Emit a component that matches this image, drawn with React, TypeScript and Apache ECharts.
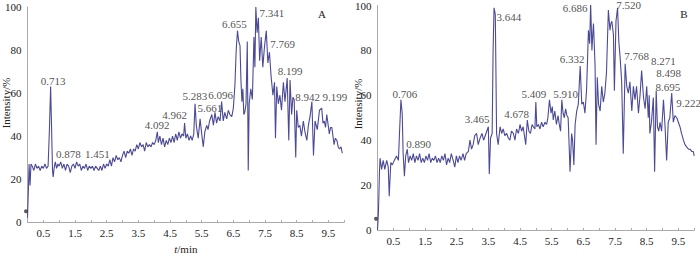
import React, { useEffect, useRef } from "react";
import * as echarts from "echarts";

// ---------- data ----------
const xTickLabels = ["0.5", "1.5", "2.5", "3.5", "4.5", "5.5", "6.5", "7.5", "8.5", "9.5"];
const yTicks = [0, 20, 40, 60, 80, 100];

const timeA = [0,0.03,0.05,0.08,0.11,0.15,0.2,0.25,0.3,0.35,0.4,0.45,0.5,0.55,0.6,0.65,0.69,0.73,0.76,0.79,0.81,0.84,0.878,0.92,0.96,1.0,1.05,1.1,1.15,1.2,1.25,1.3,1.35,1.4,1.45,1.5,1.55,1.6,1.65,1.7,1.75,1.8,1.85,1.9,1.95,2.0,2.05,2.1,2.15,2.2,2.25,2.3,2.35,2.4,2.45,2.5,2.55,2.6,2.65,2.7,2.75,2.8,2.85,2.9,2.95,3.0,3.05,3.1,3.15,3.2,3.25,3.3,3.35,3.4,3.45,3.5,3.55,3.6,3.65,3.7,3.75,3.8,3.85,3.9,3.95,4.0,4.05,4.1,4.13,4.18,4.23,4.28,4.33,4.38,4.43,4.48,4.53,4.58,4.63,4.68,4.73,4.78,4.83,4.88,4.93,4.96,5.0,5.05,5.1,5.15,5.2,5.25,5.29,5.33,5.39,5.45,5.5,5.55,5.6,5.66,5.7,5.75,5.82,5.87,5.92,5.97,6.02,6.08,6.13,6.18,6.23,6.29,6.34,6.39,6.45,6.5,6.55,6.59,6.63,6.67,6.71,6.74,6.77,6.8,6.83,6.86,6.9,6.94,6.97,7.0,7.05,7.1,7.15,7.18,7.21,7.25,7.29,7.33,7.38,7.43,7.48,7.54,7.59,7.64,7.69,7.75,7.8,7.83,7.87,7.92,7.97,8.02,8.08,8.13,8.2,8.25,8.29,8.34,8.38,8.42,8.47,8.5,8.55,8.6,8.65,8.71,8.76,8.82,8.87,8.92,8.98,9.03,9.08,9.15,9.22,9.29,9.33,9.37,9.41,9.45,9.53,9.57,9.61,9.68,9.72,9.77,9.81,9.85,9.9,9.94];
const intensityA = [2,16,27,17,27,26,24,27,25,26,24,26,25,27,25,26,42,63,44,24,21,25,28,25,27,26,28,25,27,24,27,26,23,26,27,25,28,26,27,24,26,25,27,24,26,25,26,24,26,25,24,26,24,27,25,27,26,29,26,30,28,31,29,30,28,31,33,30,33,32,34,31,34,33,36,34,37,35,36,33,37,35,36,35,37,36,38,42,37,40,36,39,35,38,36,39,37,40,37,41,38,42,39,41,40,46,39,41,38,40,38,41,55,45,39,48,41,35,42,45,43,47,50,45,51,46,49,47,56,47,51,48,52,50,49,53,64,80,89,84,82,66,56,62,50,51,55,84,24,55,62,57,86,72,100,88,95,75,86,72,81,89,74,79,68,59,65,39,63,55,59,52,65,56,67,38,66,50,58,57,30,52,44,45,40,47,42,38,45,49,56,31,47,43,52,53,46,47,44,50,41,44,44,36,39,38,35,34,35,32];

const timeB = [0,0.03,0.06,0.08,0.13,0.18,0.23,0.29,0.34,0.37,0.42,0.47,0.53,0.6,0.66,0.7,0.74,0.78,0.81,0.85,0.89,0.94,0.98,1.03,1.08,1.13,1.18,1.23,1.28,1.33,1.38,1.43,1.48,1.53,1.58,1.63,1.68,1.73,1.78,1.83,1.88,1.93,1.98,2.03,2.08,2.13,2.18,2.23,2.28,2.33,2.39,2.44,2.49,2.54,2.59,2.64,2.7,2.75,2.8,2.87,2.92,2.97,3.02,3.07,3.13,3.18,3.24,3.3,3.35,3.4,3.45,3.5,3.53,3.57,3.62,3.65,3.68,3.72,3.74,3.76,3.81,3.87,3.92,3.97,4.02,4.08,4.13,4.18,4.23,4.29,4.34,4.39,4.45,4.5,4.55,4.6,4.64,4.68,4.73,4.78,4.83,4.88,4.92,4.97,5.0,5.03,5.08,5.13,5.18,5.23,5.29,5.34,5.38,5.43,5.48,5.52,5.55,5.6,5.65,5.7,5.74,5.78,5.82,5.86,5.9,5.94,5.98,6.02,6.06,6.08,6.13,6.16,6.2,6.24,6.29,6.34,6.4,6.45,6.5,6.55,6.6,6.63,6.66,6.7,6.73,6.77,6.8,6.82,6.87,6.9,6.94,6.98,7.03,7.08,7.13,7.18,7.23,7.29,7.34,7.37,7.4,7.45,7.48,7.53,7.58,7.62,7.66,7.71,7.76,7.82,7.87,7.92,7.97,8.03,8.08,8.13,8.18,8.24,8.29,8.34,8.4,8.45,8.5,8.55,8.58,8.6,8.65,8.71,8.75,8.8,8.84,8.88,8.92,8.97,9.03,9.08,9.13,9.18,9.23,9.29,9.34,9.39,9.45,9.5,9.55,9.6,9.66,9.71,9.76,9.82,9.87,9.92,9.97,10.0];
const intensityB = [0,8,25,32,27,31,27,31,28,15,30,29,31,33,31,45,58,52,34,24,33,36,30,33,31,34,30,33,31,34,30,32,30,33,31,34,30,32,31,33,30,32,30,33,31,34,29,32,30,34,31,28,33,30,33,31,34,31,34,35,40,36,38,42,43,38,41,43,40,42,44,46,25,41,43,80,99,96,70,43,38,46,43,45,42,43,41,40,44,43,40,45,43,47,44,46,42,38,49,44,43,47,46,45,57,46,47,45,48,46,48,47,50,58,52,55,49,53,47,51,47,44,58,52,50,54,51,50,34,26,43,40,29,47,53,56,73,56,57,52,62,75,89,83,101,80,88,92,73,38,68,56,53,64,57,61,70,98,89,92,93,87,62,93,99,84,77,66,34,74,64,61,66,53,64,58,64,52,60,71,59,54,64,50,60,43,48,59,26,62,46,44,48,44,58,46,31,48,50,61,48,51,50,48,46,43,40,38,37,36,36,35,35,33];

// peak labels: [text, retention time, peak intensity]
const peaksA: [string, number, number][] = [
  ["0.713", 0.713, 63], ["0.878", 0.878, 28], ["1.451", 1.451, 27], ["4.092", 4.092, 42],
  ["4.962", 4.962, 46], ["5.283", 5.283, 55], ["5.661", 5.661, 50], ["6.096", 6.096, 56],
  ["6.655", 6.655, 89], ["7.341", 7.341, 100], ["7.769", 7.769, 79], ["8.199", 8.199, 67],
  ["8.942", 8.942, 55], ["9.199", 9.199, 52],
];
const peaksB: [string, number, number][] = [
  ["0.706", 0.706, 58], ["0.890", 0.89, 35], ["3.465", 3.465, 46], ["3.644", 3.644, 99],
  ["4.678", 4.678, 48], ["5.409", 5.409, 58], ["5.910", 5.91, 58], ["6.332", 6.332, 73],
  ["6.686", 6.686, 100], ["7.520", 7.52, 99], ["7.768", 7.768, 74], ["8.271", 8.271, 71],
  ["8.498", 8.498, 64], ["8.695", 8.695, 62], ["9.222", 9.222, 61],
];
const injectionMark: [number, number][] = [[0, 5]];

// ---------- styles ----------
const labelOffset: Record<string, [number, number]> = {
  "0.713": [3, -6], "0.878": [13, -8], "1.451": [24, -10], "4.092": [0, -7],
  "4.962": [-10, -8], "5.283": [0, -8], "5.661": [3, -7], "6.096": [0, -7],
  "6.655": [-4, -7], "7.341": [12, 6], "7.769": [9, -8], "8.199": [3, -7],
  "8.942": [-3, -7], "9.199": [16, -13],
  "0.706": [5, -6], "0.890": [13, -7], "3.465": [-10, -8], "3.644": [16, 9],
  "4.678": [-9, -8], "5.409": [-15, -6], "5.910": [1, -6], "6.332": [-6, -7],
  "6.686": [-14, 2], "7.520": [13, -3], "7.768": [13, -8], "8.271": [24, -10],
  "8.498": [22, -13], "8.695": [15, -4], "9.222": [19, 10],
};

const FONT = "'Liberation Serif', 'DejaVu Serif', serif";
const TEXT = "#222";
const AXIS = "#aaaaaa";
const LINE = "#4b4a96";

function zip(t: number[], v: number[]) {
  return t.map((x, i) => [x, v[i]]);
}

function xAxis(gridIndex: number, withName: boolean) {
  return {
    type: "value",
    gridIndex,
    min: 0,
    max: 10,
    interval: 0.5,
    name: withName ? "{i|t}/min" : "",
    nameLocation: "middle",
    nameGap: 19,
    nameTextStyle: {
      fontFamily: FONT,
      fontSize: 11,
      color: TEXT,
      rich: { i: { fontStyle: "italic", fontFamily: FONT, fontSize: 11, color: TEXT } },
    },
    axisLine: { show: true, onZero: false, lineStyle: { color: AXIS, width: 1 } },
    axisTick: { show: true, inside: true, length: 2, lineStyle: { color: AXIS } },
    splitLine: { show: false },
    axisLabel: {
      margin: 5,
      fontFamily: FONT,
      fontSize: 11,
      color: TEXT,
      showMinLabel: true,
      showMaxLabel: true,
      formatter: (v: number) => {
        const s = v.toFixed(1);
        return xTickLabels.includes(s) ? s : "";
      },
    },
  };
}

function yAxis(gridIndex: number) {
  return {
    type: "value",
    gridIndex,
    min: 0,
    max: 100,
    interval: 20,
    axisLine: { show: true, lineStyle: { color: AXIS, width: 1 } },
    axisTick: { show: false },
    splitLine: { show: false },
    axisLabel: {
      margin: 6,
      fontFamily: FONT,
      fontSize: 11,
      color: TEXT,
      formatter: (v: number) => (yTicks.includes(v) ? String(v) : ""),
    },
  };
}

function labelSeries(idx: number, peaks: [string, number, number][]) {
  return {
    type: "scatter",
    xAxisIndex: idx,
    yAxisIndex: idx,
    symbol: "circle",
    symbolSize: 1,
    clip: false,
    silent: true,
    z: 5,
    itemStyle: { color: "rgba(0,0,0,0)" },
    data: peaks.map(([name, t, v]) => ({
      value: [t, v],
      label: {
        show: true,
        position: "inside",
        offset: labelOffset[name] || [0, -7],
        formatter: name,
        fontFamily: FONT,
        fontSize: 11,
        lineHeight: 11,
        color: TEXT,
      },
    })),
  };
}

function lineSeries(idx: number, t: number[], v: number[]) {
  return {
    type: "line",
    xAxisIndex: idx,
    yAxisIndex: idx,
    data: zip(t, v),
    showSymbol: false,
    symbol: "none",
    lineStyle: { color: LINE, width: 1.1 },
    z: 3,
  };
}

function markSeries(idx: number) {
  return {
    type: "scatter",
    xAxisIndex: idx,
    yAxisIndex: idx,
    data: injectionMark,
    symbol: "circle",
    symbolSize: 4,
    symbolOffset: [-1.5, 0],
    clip: false,
    silent: true,
    itemStyle: { color: "#333" },
    z: 4,
  };
}

export default function App() {
  const ref = useRef<HTMLDivElement>(null);
  useEffect(() => {
    document.body.style.margin = "0";
    if (!ref.current) return;
    const chart = echarts.init(ref.current, undefined, { renderer: "svg" });
    chart.setOption({
      animation: false,
      backgroundColor: "#ffffff",
      grid: [
        { left: 27.5, top: 7, width: 316.7, height: 225 },
        { left: 377.5, top: 5, width: 316.7, height: 225 },
      ],
      xAxis: [xAxis(0, true), xAxis(1, false)],
      yAxis: [yAxis(0), yAxis(1)],
      series: [
        lineSeries(0, timeA, intensityA),
        lineSeries(1, timeB, intensityB),
        labelSeries(0, peaksA),
        labelSeries(1, peaksB),
        markSeries(0),
        markSeries(1),
      ],
      graphic: [
        {
          type: "text",
          x: 6,
          y: 103,
          rotation: Math.PI / 2,
          style: { text: "Intensity/%", fontFamily: FONT, fontSize: 11, fill: TEXT, align: "center", verticalAlign: "middle" },
        },
        {
          type: "text",
          x: 358,
          y: 104,
          rotation: Math.PI / 2,
          style: { text: "Intensity/%", fontFamily: FONT, fontSize: 11, fill: TEXT, align: "center", verticalAlign: "middle" },
        },
        {
          type: "text",
          x: 322,
          y: 14,
          style: { text: "A", fontFamily: FONT, fontSize: 11, fill: TEXT, align: "center", verticalAlign: "middle" },
        },
        {
          type: "text",
          x: 684,
          y: 14,
          style: { text: "B", fontFamily: FONT, fontSize: 11, fill: TEXT, align: "center", verticalAlign: "middle" },
        },
      ],
    });
    return () => chart.dispose();
  }, []);
  return <div ref={ref} style={{ width: 700, height: 259 }} />;
}
